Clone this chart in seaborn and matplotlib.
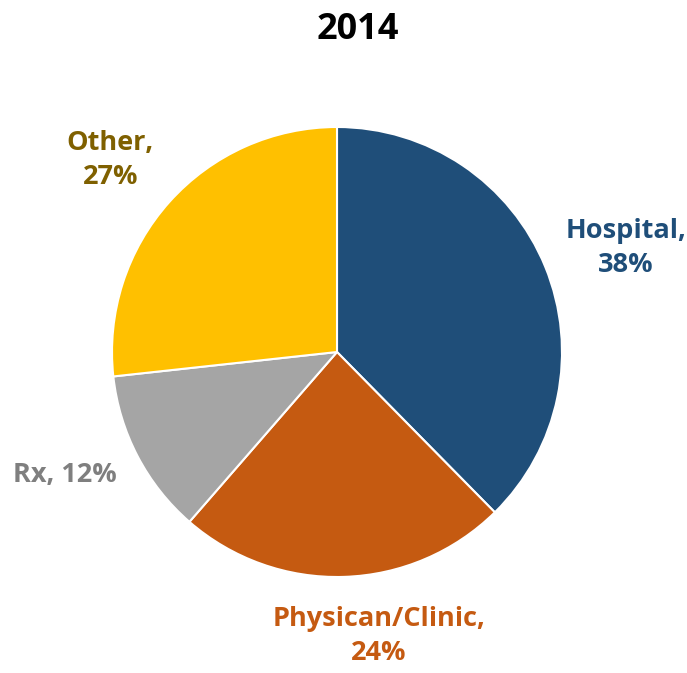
import numpy as np
import seaborn as sns
import matplotlib.pyplot as plt

# data
categories = ["Hospital", "Physican/Clinic", "Rx", "Other"]
values = [38, 24, 12, 27]
label_text = ["Hospital,\n38%", "Physican/Clinic,\n24%", "Rx, 12%", "Other,\n27%"]

wedge_colors = ["#1F4E79", "#C55A11", "#A5A5A5", "#FFC000"]
text_colors = ["#1F4E79", "#C55A11", "#7F7F7F", "#7F6000"]
# label radius / angle tweak per wedge (style)
label_r = [1.365, 1.275, 1.328, 1.32]
label_dang = [-2.5, 6.6, -3.4, 1.6]

sns.set_theme(style="white")
plt.rcParams["font.family"] = ["Open Sans", "DejaVu Sans"]

fig = plt.figure(figsize=(6.87, 6.73), dpi=100)
ax = fig.add_axes([112 / 687, 96 / 673, 450 / 687, 450 / 673])

wedges, _ = ax.pie(values, colors=sns.color_palette(wedge_colors), startangle=90,
                   counterclock=False, radius=1,
                   wedgeprops=dict(edgecolor="white", linewidth=1.5))
ax.set_xlim(-1, 1)
ax.set_ylim(-1, 1)
ax.set_aspect("equal")
ax.set_axis_off()

for w, txt, col, r, da in zip(wedges, label_text, text_colors, label_r, label_dang):
    mid = np.deg2rad((w.theta1 + w.theta2) / 2 + da)
    ax.text(r * np.cos(mid), r * np.sin(mid), txt, color=col, fontsize=19.5,
            fontweight="bold", ha="center", va="center", linespacing=1.4,
            clip_on=False)

fig.text(358 / 687, 1 - 30 / 673, "2014", fontsize=26, fontweight="bold",
         color="black", ha="center", va="center")

fig.savefig("out.png", dpi=100)
